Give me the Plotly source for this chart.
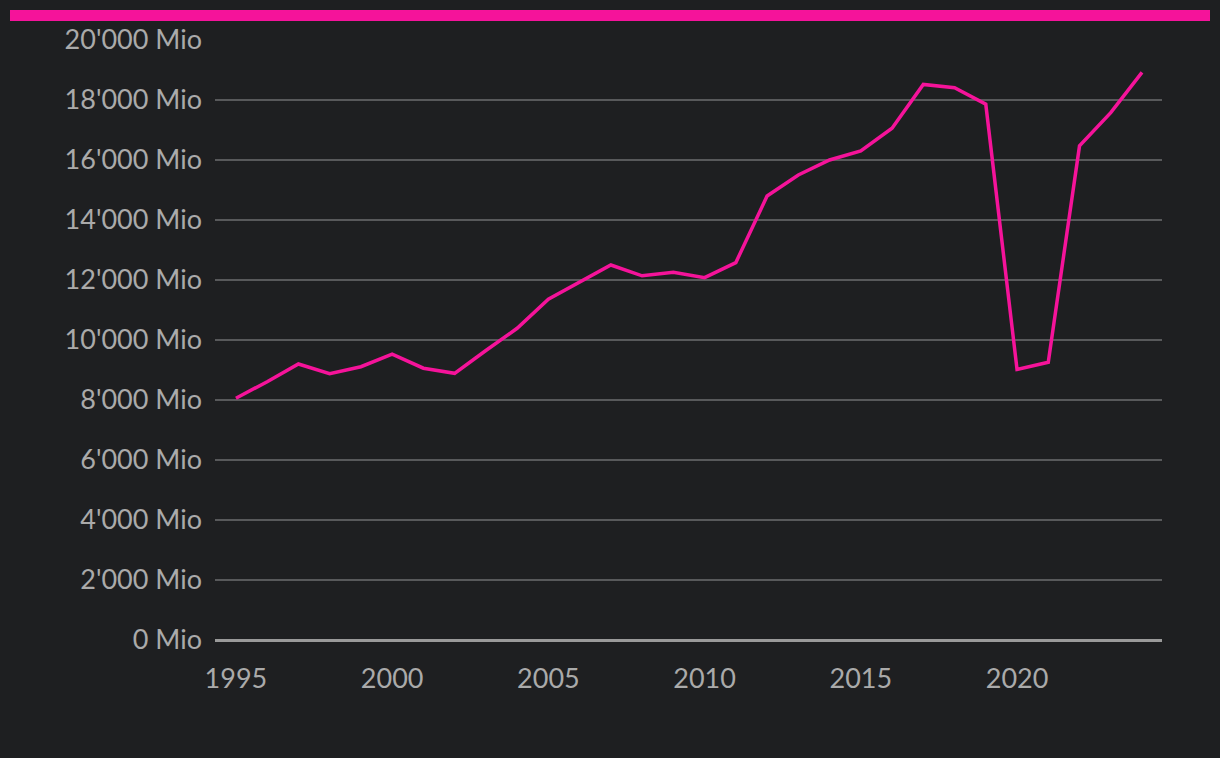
import plotly.graph_objects as go

years = list(range(1995, 2025))
values = [8060, 8610, 9200, 8880, 9110, 9530, 9060, 8890, 9650, 10390,
          11360, 11920, 12500, 12140, 12260, 12080, 12580, 14800, 15500, 16000,
          16300, 17060, 18520, 18410, 17860, 9020, 9260, 16470, 17580, 18920]
xticks = [1995, 2000, 2005, 2010, 2015, 2020]

bg = "#1e1f21"
pink = "#f5139a"
txt = "#aaaaaa"

fig = go.Figure()
fig.add_trace(go.Scatter(x=years, y=values, mode="lines",
                         line=dict(color=pink, width=3.5), hoverinfo="x+y"))

fig.update_layout(
    width=1220, height=758,
    paper_bgcolor=bg, plot_bgcolor=bg,
    margin=dict(l=215, r=58, t=40, b=118),
    showlegend=False,
    separators=".'",
    font=dict(family="Lato", color=txt, size=28),
    shapes=[dict(type="rect", xref="paper", yref="paper",
                 x0=-205/947, x1=995/947, y0=1 + 19/600, y1=1 + 30/600,
                 fillcolor=pink, line=dict(width=0))],
)
fig.update_xaxes(range=[1994.33, 2024.64], showgrid=False, zeroline=False,
                 tickvals=xticks,
                 ticks="", tickfont=dict(size=27, color=txt), ticklabelstandoff=20)
fig.update_yaxes(range=[0, 20000], dtick=2000, tickformat=",d",
                 separatethousands=True, ticksuffix=" Mio",
                 gridcolor="#58595b", gridwidth=1.5,
                 zeroline=True, zerolinecolor="#9a9a9a", zerolinewidth=3,
                 tickfont=dict(size=27, color=txt), ticklabelstandoff=12)

fig.write_html("out.html", config={"displayModeBar": False},
               post_script="document.body.style.margin='0';document.body.style.background='%s';" % bg)
